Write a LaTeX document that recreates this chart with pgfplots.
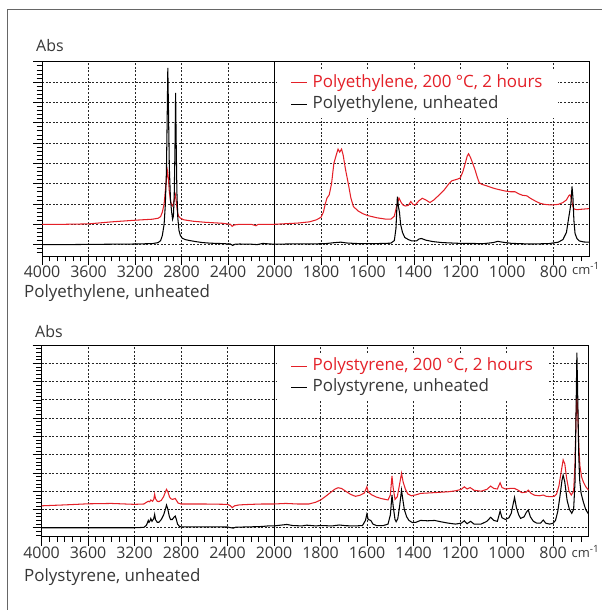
\documentclass[border=0pt]{standalone}
\usepackage{fontspec}
\setmainfont{Open Sans}
\usepackage{pgfplots}
\pgfplotsset{compat=1.18}
\usepackage{pgfplotstable}
\definecolor{pred}{RGB}{228,32,40}
\definecolor{tgray}{RGB}{55,55,55}

% Polyethylene, unheated (wavenumber, Abs)
\pgfplotstableread{
wn a
4000 0.0
3800 0.0
3600 0.01
3400 0.02
3200 0.03
3050 0.05
3000 0.1
2980 0.2
2965 0.45
2950 1.0
2940 1.9
2930 3.6
2924 6.0
2918 8.69
2912 6.5
2905 3.8
2895 2.2
2885 1.6
2877 1.25
2870 1.4
2863 2.4
2857 4.5
2851 7.46
2846 5.0
2840 2.6
2832 1.3
2822 0.7
2810 0.45
2795 0.32
2770 0.25
2730 0.2
2680 0.15
2620 0.1
2550 0.07
2450 0.05
2380 0.03
2360 -0.04
2340 0.02
2300 0.03
2200 0.02
2150 0.0
2100 0.06
2060 0.04
2000 0.02
1950 0.03
1900 0.04
1850 0.03
1780 0.05
1740 0.1
1715 0.12
1690 0.08
1640 0.05
1560 0.05
1500 0.07
1485 0.2
1478 0.8
1472 2.36
1468 1.9
1463 1.6
1458 1.0
1450 0.6
1440 0.35
1425 0.25
1410 0.18
1390 0.18
1378 0.28
1368 0.3
1350 0.22
1320 0.15
1280 0.1
1200 0.06
1100 0.05
1060 0.1
1040 0.16
1020 0.12
980 0.06
900 0.03
820 0.05
780 0.12
760 0.25
745 0.6
737 1.2
730 1.7
726 2.0
721 2.86
717 2.3
713 1.2
708 0.55
700 0.3
690 0.18
670 0.13
648 0.12
}\peUnheated

% Polyethylene, 200 C, 2 hours
\pgfplotstableread{
wn a
4000 1.0
3800 1.0
3600 1.02
3400 1.12
3200 1.2
3050 1.25
3000 1.3
2980 1.38
2965 1.6
2950 2.0
2940 2.6
2930 3.2
2920 3.63
2912 3.2
2905 2.6
2895 2.15
2885 1.95
2877 1.9
2870 2.0
2862 2.25
2852 2.45
2845 2.1
2835 1.6
2825 1.4
2810 1.3
2780 1.22
2700 1.15
2600 1.1
2450 1.05
2380 1.0
2365 0.9
2345 0.97
2300 1.0
2200 1.0
2160 0.93
2140 1.0
2050 1.0
2000 1.0
1950 1.03
1900 1.06
1850 1.12
1820 1.22
1800 1.35
1790 1.6
1782 2.0
1775 2.28
1765 2.45
1755 3.0
1745 4.0
1735 4.4
1727 4.7
1720 4.55
1712 4.7
1705 4.4
1695 3.7
1683 3.0
1672 2.3
1661 1.87
1640 1.65
1620 1.52
1600 1.43
1560 1.32
1520 1.25
1500 1.25
1485 1.4
1475 1.9
1465 2.29
1457 2.1
1448 1.95
1438 1.9
1425 1.93
1414 2.12
1405 1.98
1395 1.95
1380 2.15
1365 2.28
1350 2.2
1332 2.07
1315 2.2
1300 2.36
1270 2.7
1250 3.0
1238 3.14
1220 3.2
1202 3.27
1190 3.6
1180 4.0
1172 4.35
1166 4.47
1158 4.3
1148 4.0
1138 3.68
1128 3.3
1120 3.05
1110 2.97
1090 2.9
1060 2.78
1044 2.73
1010 2.64
985 2.6
966 2.6
950 2.5
935 2.43
915 2.4
900 2.28
880 2.15
860 2.04
840 1.98
820 1.96
800 1.96
780 1.98
760 2.07
745 2.2
735 2.4
730 2.45
724 2.3
718 1.9
712 1.75
700 1.72
680 1.74
648 1.77
}\peHeated

% Polystyrene, unheated
\pgfplotstableread{
wn a
4000 0.0
3600 0.0
3200 0.0
3120 0.02
3100 0.12
3090 0.25
3082 0.4
3075 0.3
3065 0.4
3060 0.5
3050 0.35
3035 0.5
3027 0.73
3020 0.45
3005 0.3
2990 0.3
2970 0.45
2950 0.7
2935 1.0
2925 1.24
2915 1.05
2900 0.6
2890 0.45
2875 0.45
2860 0.58
2850 0.64
2840 0.45
2830 0.2
2815 0.08
2800 0.05
2600 0.05
2400 0.04
2370 0.0
2350 -0.02
2330 0.03
2200 0.05
2100 0.07
2050 0.1
2000 0.1
1945 0.18
1920 0.12
1880 0.1
1860 0.14
1820 0.1
1800 0.12
1750 0.1
1720 0.15
1690 0.11
1650 0.1
1620 0.12
1607 0.4
1601 0.75
1595 0.45
1584 0.4
1575 0.2
1560 0.12
1530 0.12
1510 0.2
1500 0.7
1493 1.79
1488 1.2
1480 0.45
1475 0.33
1468 0.5
1460 1.2
1452 2.06
1447 1.6
1440 1.0
1430 0.6
1420 0.4
1405 0.28
1390 0.3
1370 0.4
1340 0.38
1310 0.4
1280 0.32
1250 0.25
1220 0.2
1195 0.25
1182 0.38
1170 0.22
1155 0.35
1140 0.2
1110 0.2
1085 0.35
1069 0.57
1055 0.4
1040 0.35
1028 0.91
1020 0.55
1005 0.45
990 0.55
980 0.8
972 1.3
966 1.66
958 1.1
948 0.7
940 0.51
925 0.6
915 0.85
907 0.97
898 0.6
885 0.35
870 0.25
855 0.25
842 0.42
832 0.25
815 0.2
800 0.25
790 0.4
780 0.9
770 1.8
762 2.6
757 2.88
750 2.5
740 1.5
730 1.0
720 0.79
712 1.0
706 2.5
702 6.0
698 9.58
694 7.0
690 4.0
686 2.6
680 1.9
670 1.4
660 1.0
648 0.75
}\psUnheated

% Polystyrene, 200 C, 2 hours
\pgfplotstableread{
wn a
4000 1.2
3800 1.25
3600 1.31
3400 1.33
3200 1.28
3120 1.3
3100 1.38
3082 1.45
3070 1.42
3060 1.52
3045 1.45
3035 1.55
3027 1.83
3020 1.6
3005 1.45
2990 1.43
2970 1.5
2950 1.7
2935 1.95
2925 2.1
2912 1.95
2900 1.7
2890 1.6
2875 1.55
2860 1.58
2850 1.6
2840 1.5
2825 1.35
2800 1.3
2600 1.3
2400 1.28
2375 1.2
2360 1.1
2340 1.2
2300 1.25
2200 1.28
2100 1.3
2000 1.3
1950 1.33
1900 1.3
1850 1.3
1820 1.4
1800 1.52
1780 1.7
1760 1.9
1740 2.1
1725 2.19
1710 2.15
1690 1.98
1670 1.82
1650 1.72
1630 1.78
1612 1.9
1601 2.24
1595 1.95
1580 1.8
1560 1.68
1540 1.6
1510 1.52
1500 1.8
1493 2.83
1488 2.2
1480 1.55
1470 1.7
1460 2.4
1452 2.98
1445 2.5
1435 2.1
1425 1.85
1410 1.75
1390 1.8
1370 1.88
1340 1.9
1300 1.93
1250 1.97
1220 2.02
1195 2.1
1182 2.24
1170 2.12
1157 2.2
1140 2.05
1110 2.0
1085 2.1
1069 2.28
1055 2.15
1040 2.12
1028 2.46
1020 2.2
1005 2.12
985 2.15
966 2.15
950 2.05
935 1.92
915 1.95
907 2.06
895 1.88
880 1.78
860 1.75
842 1.79
830 1.72
810 1.7
795 1.72
785 1.85
775 2.3
765 3.1
757 3.71
750 3.5
742 2.7
732 2.0
722 1.79
712 2.0
706 3.5
702 5.8
698 7.26
694 6.2
690 4.6
685 3.4
678 2.8
670 2.5
660 2.25
648 2.06
}\psHeated

\newcommand{\lbl}{\fontsize{16}{19}\selectfont}
\newcommand{\txt}{\fontsize{17}{20}\selectfont}
\newcommand{\unit}{\fontsize{13}{15}\selectfont}

\pgfplotsset{
  irstyle/.style={
    scale only axis,
    width=547bp,
    xmin=0, xmax=2352,
    x filter/.expression={x>=2000 ? (4000-x)/2 : 3000-x},
    xtick={0,200,400,600,800,1000,1200,1400,1600,1800,2000,2200},
    xticklabels={4000,3600,3200,2800,2400,2000,1800,1600,1400,1200,1000,800},
    minor xtick={33.333,66.667,100,133.333,166.667,233.333,266.667,300,333.333,366.667,433.333,466.667,500,533.333,566.667,633.333,666.667,700,733.333,766.667,833.333,866.667,900,933.333,966.667,1040,1080,1120,1160,1240,1280,1320,1360,1440,1480,1520,1560,1640,1680,1720,1760,1840,1880,1920,1960,2040,2080,2120,2160,2240,2280,2320},
    xtick pos=left, ytick pos=left,
    tick align=outside,
    yticklabels={},
    grid=major,
    major grid style={black!85, dash pattern=on 2bp off 1.6bp, line width=0.65bp},
    axis line style={black, line width=0.8bp},
    every tick/.style={black, line width=0.6bp},
    major tick length=9bp, minor tick length=5.5bp,
    tick label style={font=\lbl, text=tgray},
    xticklabel style={inner sep=1bp},
    extra x ticks={1000}, extra x tick labels={},
    extra x tick style={grid=major, major grid style={solid, black, line width=0.9bp}, major tick length=0pt},
    legend cell align=left,
    legend image code/.code={\draw[##1, line width=1bp] (0bp,0bp) -- (16bp,0bp);},
    legend style={anchor=north west, draw=none, fill=white, inner xsep=14bp, inner ysep=3bp,
      font=\txt, text=tgray, row sep=1bp,
      nodes={inner sep=1.5bp, text height=13bp, text depth=4.5bp},
      /tikz/every odd column/.append style={column sep=3.5bp}},
  }
}

\begin{document}
\begin{tikzpicture}
\useasboundingbox (0,0) rectangle (602bp,610bp);
\draw[black!60, line width=1bp] (7.5bp,0bp) -- (7.5bp,600bp) -- (602bp,600bp);

% ---------- Panel 1: polyethylene ----------
\begin{axis}[irstyle, name=ax1,
  at={(42bp,354bp)}, anchor=south west,
  height=194.3bp,
  ymin=-0.56, ymax=9,
  ytick={0,1,...,9},
  minor ytick={-0.4,-0.2,...,9},
  legend style={at={(axis cs:1008,8.62)}},
]
\addplot[pred, line width=1.05bp] table[x=wn, y=a] {\peHeated};
\addlegendentry{\textcolor{pred}{Polyethylene, 200 °C, 2 hours}}
\addplot[black, line width=1.05bp] table[x=wn, y=a] {\peUnheated};
\addlegendentry{Polyethylene, unheated}
\end{axis}
\node[anchor=base west, inner sep=0, font=\lbl, text=tgray] at ([xshift=-6bp, yshift=9.7bp]ax1.north west) {Abs};
\node[anchor=base west, inner sep=0, font=\unit, text=tgray] at ([xshift=-17bp, yshift=-19bp]ax1.south east) {cm\raisebox{5bp}{\fontsize{10}{12}\selectfont -1}};
\node[anchor=base west, inner sep=0, font=\txt, text=tgray] at (24bp,312bp) {Polyethylene, unheated};

% ---------- Panel 2: polystyrene ----------
\begin{axis}[irstyle, name=ax2,
  at={(41.5bp,73.3bp)}, anchor=south west,
  height=191.7bp,
  ymin=-0.49, ymax=10,
  ytick={0,1,...,10},
  minor ytick={-0.4,-0.2,...,10},
  legend style={at={(axis cs:1010,9.58)}},
]
\addplot[pred, line width=1.05bp] table[x=wn, y=a] {\psHeated};
\addlegendentry{\textcolor{pred}{Polystyrene, 200 °C, 2 hours}}
\addplot[black, line width=1.05bp] table[x=wn, y=a] {\psUnheated};
\addlegendentry{Polystyrene, unheated}
\end{axis}
\node[anchor=base west, inner sep=0, font=\lbl, text=tgray] at ([xshift=-6.5bp, yshift=7bp]ax2.north west) {Abs};
\node[anchor=base west, inner sep=0, font=\unit, text=tgray] at ([xshift=-17bp, yshift=-21bp]ax2.south east) {cm\raisebox{5bp}{\fontsize{10}{12}\selectfont -1}};
\node[anchor=base west, inner sep=0, font=\txt, text=tgray] at (24bp,28.3bp) {Polystyrene, unheated};
\end{tikzpicture}
\end{document}
